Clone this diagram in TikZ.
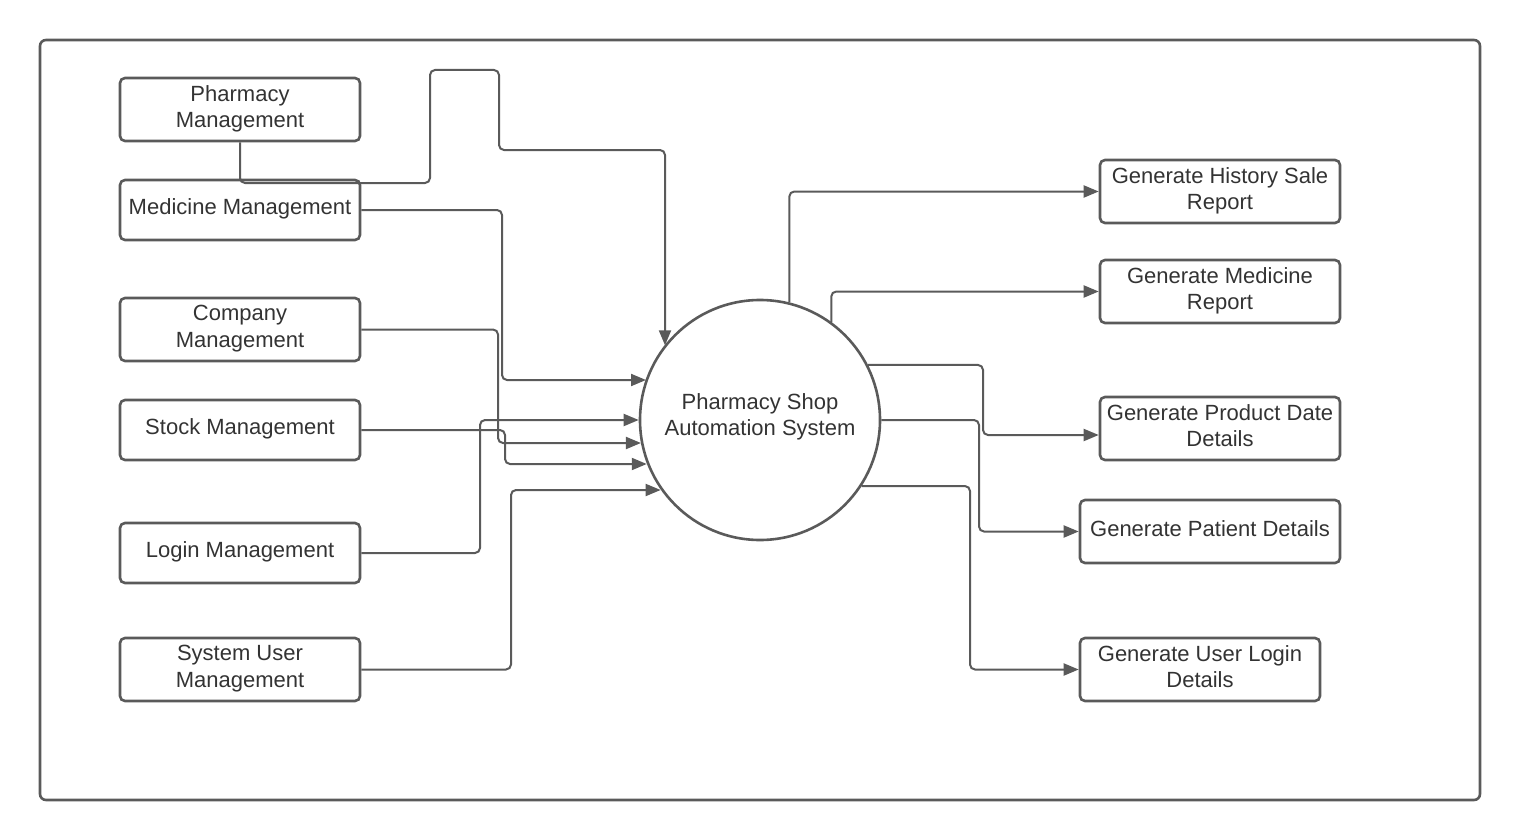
\documentclass[tikz,border=0pt]{standalone}
\usepackage{fontspec}
\setmainfont{Liberation Sans}
\usetikzlibrary{arrows.meta,calc}
\definecolor{lc}{HTML}{5A5A5A}
\definecolor{tc}{HTML}{333333}
\newcommand\mydstrut{\rule[-6pt]{0pt}{6pt}}
\newcommand\mycstrut{\rule[-10.5pt]{0pt}{10.5pt}}
\begin{document}
\begin{tikzpicture}[x=1pt,y=-1pt,
  box/.style={draw=lc, line width=2.6pt, rounded corners=5pt, minimum width=240pt,
    minimum height=63pt, align=center, text=tc, inner xsep=3pt, inner ysep=2pt,
    font=\fontsize{22}{26.5}\selectfont, execute at end node=\mydstrut},
  proc/.style={draw=lc, line width=2.6pt, circle, minimum size=240pt, align=center,
    text=tc, inner sep=0pt, font=\fontsize{22}{26.5}\selectfont,
    execute at end node=\mycstrut},
  arr/.style={draw=lc, line width=2pt, rounded corners=5pt,
    -{Triangle[length=15pt,width=12pt]}}]
\useasboundingbox (0,0) rectangle (1520,840);
\node[draw=lc, line width=2.6pt, rounded corners=6pt, minimum width=1440pt,
  minimum height=760pt] (frame) at (760,420) {};

% left boxes
\node[box] (pm) at (240,109.5) {Pharmacy\\Management};
\node[box, minimum height=60pt] (mm) at (240,210) {Medicine Management};
\node[box] (cm) at (240,329.5) {Company\\Management};
\node[box, minimum height=60pt] (sm) at (240,430) {Stock Management};
\node[box, minimum height=60pt] (lm) at (240,553) {Login Management};
\node[box] (um) at (240,669.5) {System User\\Management};

% centre process
\node[proc] (sys) at (760,420) {Pharmacy Shop\\Automation System};

% right boxes
\node[box] (hs) at (1220,191.5) {Generate History Sale\\Report};
\node[box] (mr) at (1220,291.5) {Generate Medicine\\Report};
\node[box] (pd) at (1220,428.5) {Generate Product Date\\Details};
\node[box, minimum width=260pt] (pa) at (1210,531.5) {Generate Patient Details};
\node[box] (ul) at (1200,669.5) {Generate User Login\\Details};

% helper coordinates
\coordinate (p1) at (240,183);
\coordinate (p2) at (430,183);
\coordinate (p3) at (430,70);
\coordinate (p4) at (499,70);
\coordinate (p5) at (499,150);
\coordinate (p6) at (665,150);
\coordinate (m1) at (502,380);
\coordinate (c1) at (498,443);
\coordinate (s1) at (505,464);
\coordinate (l1) at (480,420);
\coordinate (u1) at (511,490);
\coordinate (x8) at (983,0);
\coordinate (x9) at (979,0);
\coordinate (x10) at (970,0);
\coordinate (pdin) at ($(pd.west)+(0,6.5)$);

% inputs
\draw[arr] (pm.south) -- (p1) -- (p2) -- (p3) -- (p4) -- (p5) -- (p6) -- (p6 |- sys.142.31);
\draw[arr] (mm.east) -| (m1) -- (m1 -| sys.160.53);
\draw[arr] (cm.east) -| (c1) -- (c1 -| sys.191.05);
\draw[arr] (sm.east) -| (s1) -- (s1 -| sys.201.51);
\draw[arr] (lm.east) -| (l1) -- (l1 -| sys.west);
\draw[arr] (um.east) -| (u1) -- (u1 -| sys.215.69);

% outputs
\draw[arr] (sys.76.5) |- (hs.west);
\draw[arr] (sys.54.9) |- (mr.west);
\draw[arr] (sys.27.3) -| (pdin -| x8) -- (pdin);
\draw[arr] (sys.0) -| (pa.west -| x9) -- (pa.west);
\draw[arr] (sys.-33.4) -| (ul.west -| x10) -- (ul.west);
\end{tikzpicture}
\end{document}
